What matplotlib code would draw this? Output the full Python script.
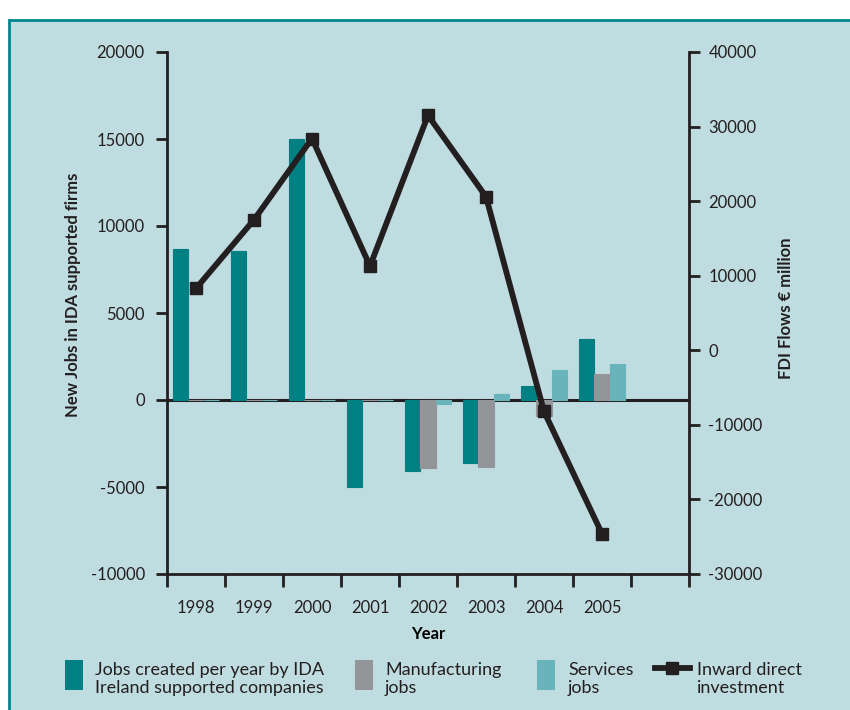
import matplotlib.pyplot as plt
from matplotlib.patches import Rectangle
from matplotlib.lines import Line2D

years = ['1998', '1999', '2000', '2001', '2002', '2003', '2004', '2005']
jobs_total = [8700, 8550, 15000, -5000, -4100, -3600, 800, 3500]
jobs_manuf = [0, 0, 0, 0, -3900, -3850, -900, 1500]
jobs_serv = [0, 0, 0, 0, -250, 350, 1750, 2050]
fdi = [8300, 17500, 28400, 11300, 31500, 20600, -8200, -24600]

teal = '#008083'
grey = '#939598'
light = '#69b3ba'
bg = '#bfdce0'
ink = '#231f20'

plt.rcParams['font.family'] = ['Lato', 'DejaVu Sans']
plt.rcParams['text.color'] = ink
plt.rcParams['axes.unicode_minus'] = False

W, H = 850, 710
fig = plt.figure(figsize=(W / 100, H / 100), dpi=100)
fig.patch.set_facecolor('white')
# light blue panel with teal frame, kept behind everything
fig.patches.append(Rectangle((9 / W, -0.02), 1.0, 1 - 20 / H + 0.02,
                             transform=fig.transFigure, facecolor=bg,
                             edgecolor='#00868a', linewidth=2, zorder=-5))

ax = fig.add_axes([167 / W, 1 - 574 / H, 522 / W, 522 / H])
ax.set_facecolor('none')

x = [i + 0.5 for i in range(len(years))]
w = 0.265
ax.axhline(0, color=ink, lw=2.2, zorder=1)
ax.bar([v - w for v in x], jobs_total, w, color=teal, ec=teal, lw=0.8, zorder=2)
ax.bar(x, jobs_manuf, w, color=grey, ec=grey, lw=0.8, zorder=2)
ax.bar([v + w for v in x], jobs_serv, w, color=light, ec=light, lw=0.8, zorder=2)

ax.set_xlim(0, 9)
ax.set_ylim(-10000, 20000)
ax.set_yticks(range(-10000, 20001, 5000))
ax.set_xticks(range(10))
ax.set_xticklabels([''] * 10)
ax.set_xticks(x, minor=True)
ax.set_xticklabels(years, minor=True)
ax.tick_params(axis='x', which='major', direction='out', length=9, width=2, color=ink)
ax.tick_params(axis='x', which='minor', length=0, pad=19, labelsize=12, labelcolor=ink)
ax.tick_params(axis='y', direction='out', length=8, width=2, pad=8, labelsize=12,
               color=ink, labelcolor=ink)
ax.set_xlabel('Year', fontsize=12, fontweight='bold', labelpad=7)
for s in ['top', 'right']:
    ax.spines[s].set_visible(False)
for s in ['left', 'bottom']:
    ax.spines[s].set_linewidth(2)
    ax.spines[s].set_color(ink)

ax2 = ax.twinx()
ax2.plot(x, fdi, color=ink, lw=4.2, marker='s', ms=8, zorder=3)
ax2.set_ylim(-30000, 40000)
ax2.set_yticks(range(-30000, 40001, 10000))
ax2.tick_params(axis='y', direction='out', length=8, width=2, pad=6, labelsize=12,
                color=ink, labelcolor=ink)
for s in ['top', 'left', 'bottom']:
    ax2.spines[s].set_visible(False)
ax2.spines['right'].set_linewidth(2)
ax2.spines['right'].set_color(ink)

fig.text(73 / W, 1 - 295 / H, 'New Jobs in IDA supported firms', rotation=90,
         ha='center', va='center', fontsize=12, fontweight='bold')
fig.text(786 / W, 1 - 308 / H, 'FDI Flows € million', rotation=90,
         ha='center', va='center', fontsize=12, fontweight='bold')

# legend
for px, col in [(65, teal), (355, grey), (537, light)]:
    fig.add_artist(Rectangle((px / W, 1 - 690 / H), 18 / W, 30 / H,
                             transform=fig.transFigure, facecolor=col, edgecolor='none'))
fig.add_artist(Line2D([655 / W, 672 / W, 690 / W], [1 - 668 / H] * 3,
                      transform=fig.transFigure, color=ink, lw=4.2,
                      marker='s', ms=8, markevery=[1]))
legend_texts = [(95, 'Jobs created per year by IDA\nIreland supported companies'),
                (385, 'Manufacturing\njobs'),
                (568, 'Services\njobs'),
                (697, 'Inward direct\ninvestment')]
for px, t in legend_texts:
    fig.text(px / W, 1 - 679 / H, t, ha='left', va='center', fontsize=13,
             linespacing=1.2)

fig.savefig('out.png', dpi=100)
